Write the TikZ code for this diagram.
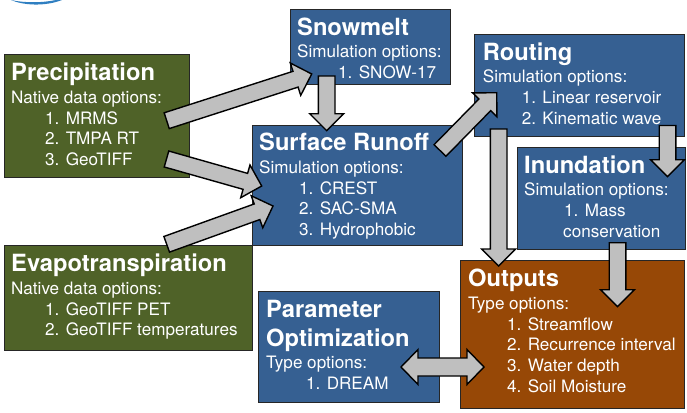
\documentclass[tikz,border=0pt]{standalone}
\usepackage{fontspec}
\setmainfont{TeX Gyre Heros}
\usetikzlibrary{calc}
\definecolor{bluebox}{HTML}{366092}
\definecolor{greenbox}{HTML}{4F6228}
\definecolor{brownbox}{HTML}{974806}
\definecolor{arrowgrey}{HTML}{BFBFBF}
\definecolor{logoblue}{HTML}{2F7FC1}
\tikzset{
  box/.style={draw=black!85, line width=1pt, anchor=north west, inner sep=0pt, rectangle},
  txt/.style={anchor=north west, align=left, inner sep=0pt, text=white, font=\fontsize{17.1}{20.7}\selectfont},
  fatarrow/.style={draw=black, line width=1.4pt, fill=arrowgrey, line join=miter}
}
\newcommand\ttl[1]{\rule{0pt}{20pt}{\fontsize{23.7}{20.7}\selectfont\bfseries #1}}
\newcommand\ind[1]{\hspace*{#1pt}}
% single block arrow from named coordinate #1 to named coordinate #2
\newcommand\fatarrow[2]{%
  \coordinate (hb) at ($(#2)!17pt!(#1)$);
  \draw[fatarrow] ($(#1)!8.3pt!90:(#2)$) -- ($(hb)!8.3pt!90:(#2)$) -- ($(hb)!17pt!90:(#2)$) -- (#2)
    -- ($(hb)!17pt!-90:(#2)$) -- ($(hb)!8.3pt!-90:(#2)$) -- ($(#1)!8.3pt!-90:(#2)$) -- cycle;
}
\begin{document}
\begin{tikzpicture}[x=1pt,y=-1pt]
\useasboundingbox (0,0) rectangle (687,412);
\fill[white] (0,0) rectangle (687,412);
% boxes
\node[box, fill=greenbox, minimum width=185.5pt, minimum height=123pt] (precip) at (3.5,54) {};
\node[txt] (precipT) at (11,60.7) {\ttl{Precipitation}\\[1.7pt]Native data options:\\\ind{34}1. MRMS\\\ind{34}2. TMPA RT\\\ind{34}3. GeoTIFF};
\node[box, fill=bluebox, minimum width=160pt, minimum height=75pt] (snow) at (290,9) {};
\node[txt] (snowT) at (297,15) {\ttl{Snowmelt}\\[1.7pt]Simulation options:\\\ind{41}1. SNOW-17};
\node[box, fill=bluebox, minimum width=210pt, minimum height=120pt] (surf) at (252,125) {};
\node[txt] (surfT) at (259,130.7) {\ttl{Surface Runoff}\\[1.7pt]Simulation options:\\\ind{40}1. CREST\\\ind{40}2. SAC-SMA\\\ind{40}3. Hydrophobic};
\node[box, fill=bluebox, minimum width=210pt, minimum height=102pt] (rout) at (474,34) {};
\node[txt] (routT) at (482.7,40) {\ttl{Routing}\\[1.7pt]Simulation options:\\\ind{39}1. Linear reservoir\\\ind{39}2. Kinematic wave};
\node[box, fill=bluebox, minimum width=168pt, minimum height=102pt] (inun) at (517,147) {};
\node[txt] (inunT) at (524,153) {\ttl{Inundation}\\[1.7pt]Simulation options:\\\ind{40}1. Mass\\\ind{39}conservation};
\node[box, fill=brownbox, minimum width=224pt, minimum height=148pt] (outp) at (460,260) {};
\node[txt] (outpT) at (468,266.7) {\ttl{Outputs}\\[1.7pt]Type options:\\\ind{39}1. Streamflow\\\ind{39}2. Recurrence interval\\\ind{39}3. Water depth\\\ind{39}4. Soil Moisture};
\node[box, fill=bluebox, minimum width=181pt, minimum height=111pt] (para) at (258,291) {};
\node[txt] (paraT) at (266,297.3) {\ttl{Parameter}\\[8pt]\ttl{Optimization}\\[1.7pt]Type options:\\\ind{40}1. DREAM};
\node[box, fill=greenbox, minimum width=248.5pt, minimum height=105pt] (evap) at (3.5,245) {};
\node[txt] (evapT) at (11,251.7) {\ttl{Evapotranspiration}\\[1.7pt]Native data options:\\\ind{34}1. GeoTIFF PET\\\ind{34}2. GeoTIFF temperatures};
% logo fragment
\fill[logoblue] (11,0) .. controls (22,5) and (44,7) .. (62,0) -- (56,0) .. controls (42,3) and (24,3) .. (11,0) -- cycle;
% arrow ends
\coordinate (a1s) at (166.7,120.7); \coordinate (a1e) at (311.7,74);
\coordinate (a2s) at (326.7,76);    \coordinate (a2e) at (326.7,130.7);
\coordinate (a3s) at (166.5,159);   \coordinate (a3e) at (261.7,186);
\coordinate (a4s) at (166.7,244.3); \coordinate (a4e) at (273,206);
\coordinate (a5s) at (440,150.5);   \coordinate (a5e) at (496.7,92.7);
\coordinate (a6s) at (667.5,125.5); \coordinate (a6e) at (667.5,176.7);
\coordinate (a7s) at (498.7,129);   \coordinate (a7e) at (498.7,266);
\coordinate (a8s) at (617.5,242.7); \coordinate (a8e) at (617.5,306.7);
\coordinate (a9s) at (401,367);     \coordinate (a9e) at (484,367);
\fatarrow{a1s}{a1e}
\fatarrow{a2s}{a2e}
\fatarrow{a3s}{a3e}
\fatarrow{a4s}{a4e}
\fatarrow{a5s}{a5e}
\fatarrow{a6s}{a6e}
\fatarrow{a7s}{a7e}
\fatarrow{a8s}{a8e}
% double arrow parameter <-> outputs
\coordinate (hl) at ($(a9s)!17pt!(a9e)$);
\coordinate (hr) at ($(a9e)!17pt!(a9s)$);
\draw[fatarrow] (a9s) -- ($(hl)!17.5pt!90:(a9e)$) -- ($(hl)!9pt!90:(a9e)$) -- ($(hr)!9pt!-90:(a9s)$) -- ($(hr)!17.5pt!-90:(a9s)$) -- (a9e)
  -- ($(hr)!17.5pt!90:(a9s)$) -- ($(hr)!9pt!90:(a9s)$) -- ($(hl)!9pt!-90:(a9e)$) -- ($(hl)!17.5pt!-90:(a9e)$) -- cycle;
\end{tikzpicture}
\end{document}
